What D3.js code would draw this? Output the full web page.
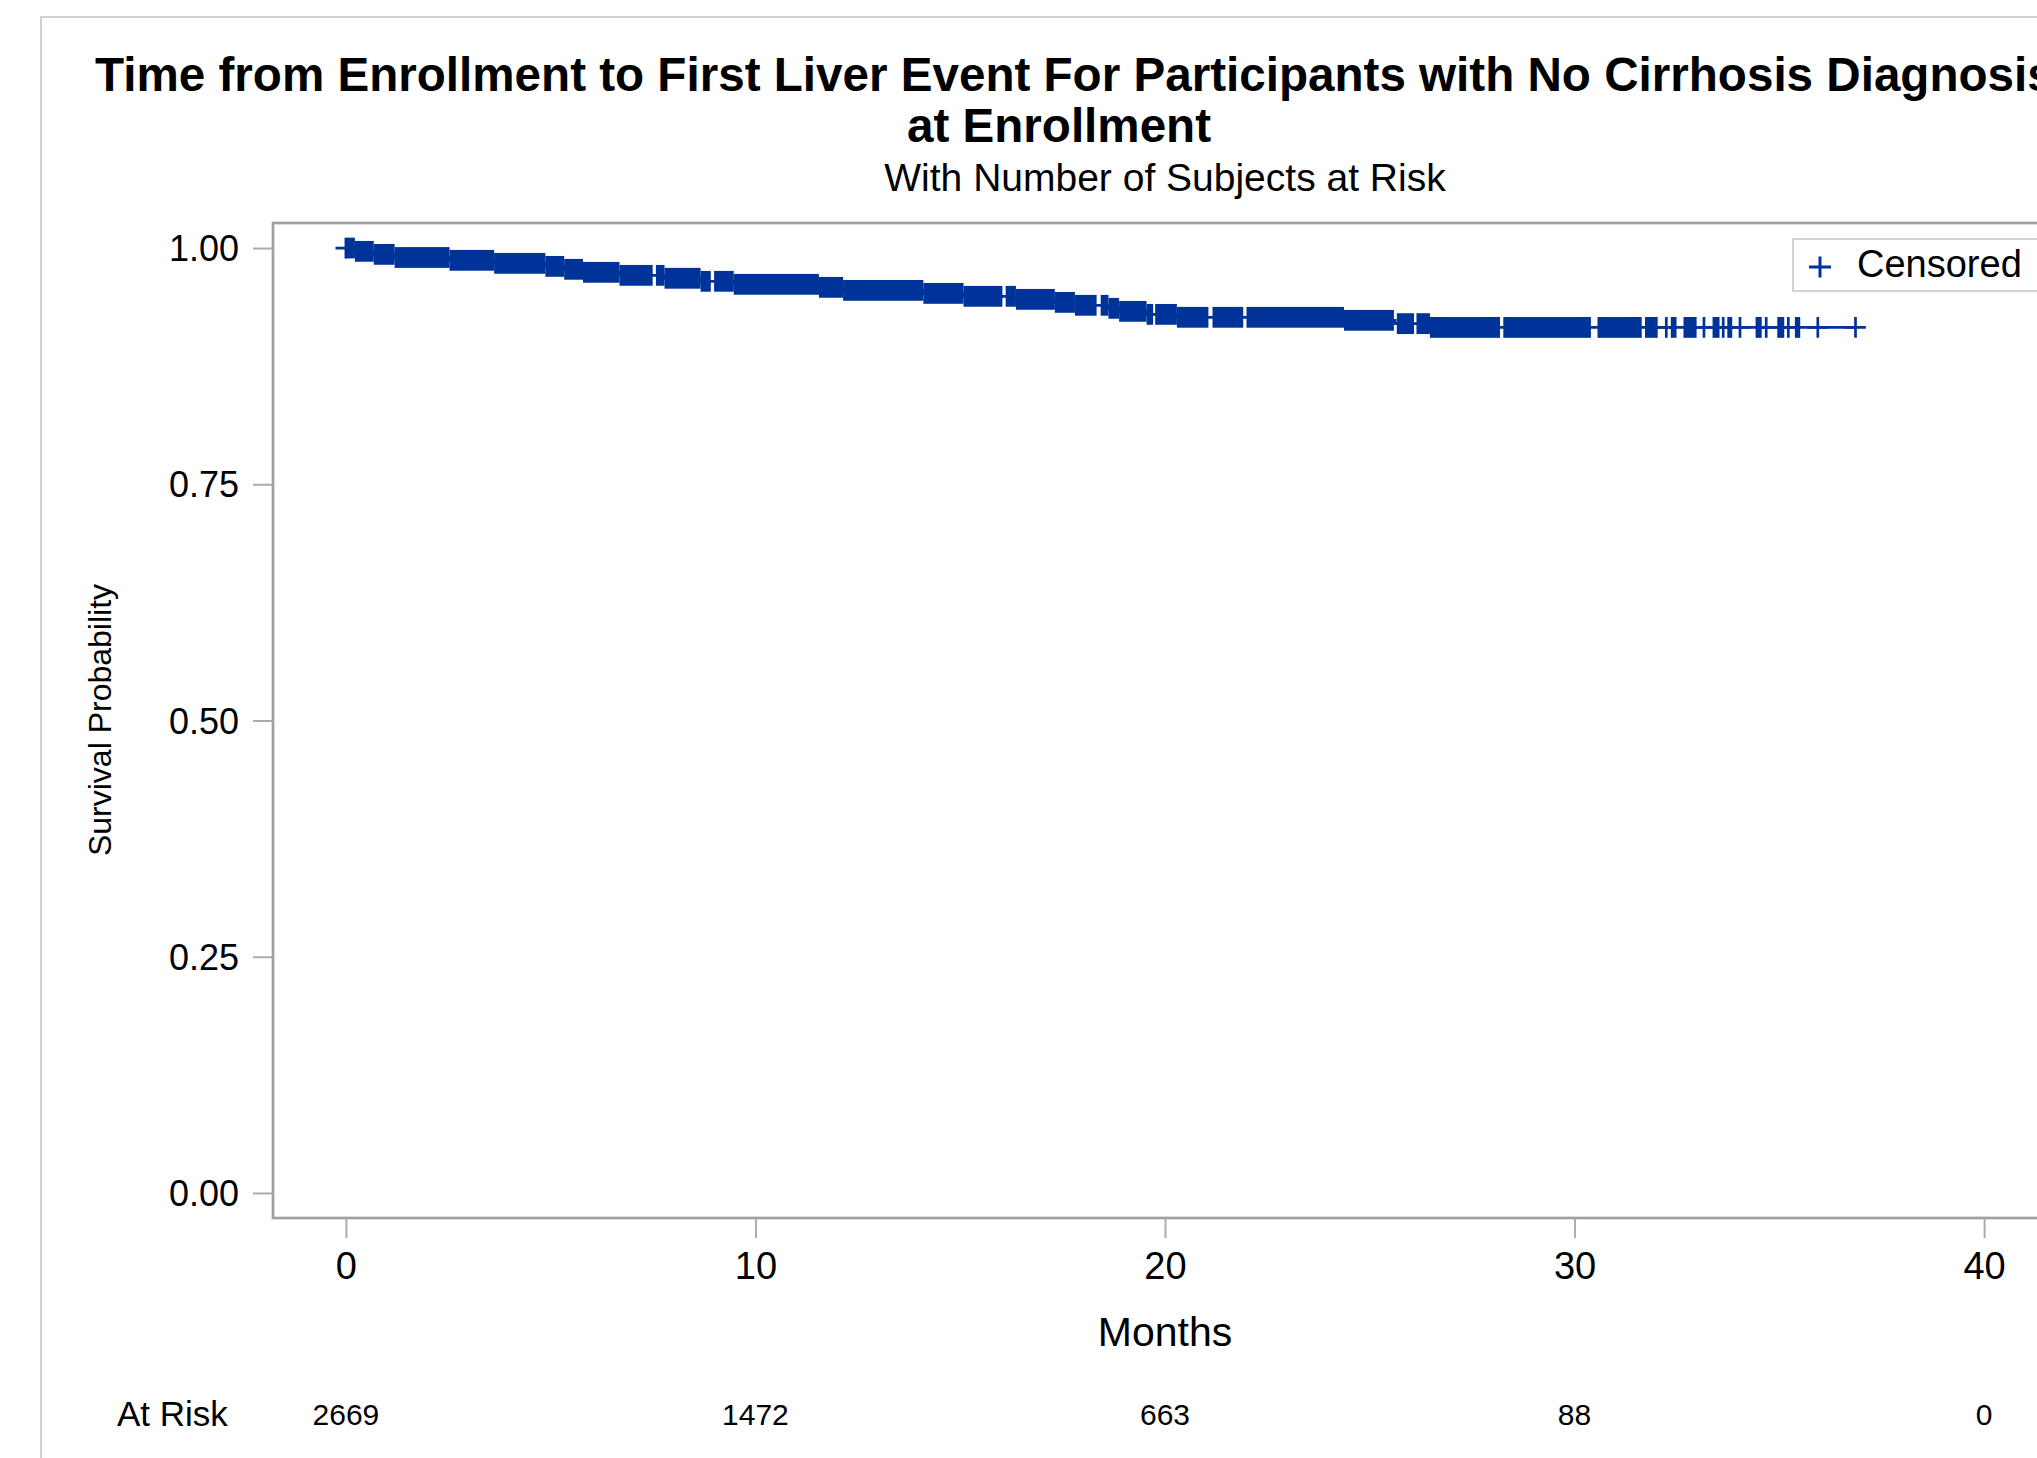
<!DOCTYPE html>
<html>
<head>
<meta charset="utf-8">
<script src="https://cdn.jsdelivr.net/npm/d3@7"></script>
<style>
  body { margin: 0; background: #fff; }
  svg { display: block; }
  text { font-family: "Liberation Sans", Arial, sans-serif; fill: #000; }
</style>
</head>
<body>
<div id="chart"></div>
<script>
// tick values and at-risk counts
const xTicks = [0, 10, 20, 30, 40]
const yTicks = [0, 0.25, 0.5, 0.75, 1]
const atRisk = [2669, 1472, 663, 88, 0]

// KM steps (months, survival)
const stepTimes = [0, 0.22, 0.68, 1.19, 2.53, 3.62, 4.87, 5.33, 5.79, 6.68, 7.78, 8.66, 9.47,
  11.55, 12.14, 14.10, 15.08, 16.36, 17.31, 17.80, 18.62, 18.88, 19.55, 20.29, 24.37, 25.62, 26.47]
const survival = [1, 0.9965, 0.9933, 0.990, 0.987, 0.9838, 0.9806, 0.9775, 0.9743, 0.9711, 0.968, 0.9648, 0.9616,
  0.9584, 0.9552, 0.952, 0.9489, 0.9457, 0.9425, 0.9394, 0.9362, 0.933, 0.9298, 0.9267, 0.9235, 0.920, 0.916]
const lastTime = 36.86

// runs where censoring marks are so dense they merge into a band
const denseStart = [0.0, 7.57, 8.99, 16.11, 18.43, 19.76, 21.16, 21.99, 25.66, 26.14, 28.26, 30.56, 31.72,
  32.35, 32.66, 33.37, 33.73, 34.42, 34.95, 35.38]
const denseEnd = [7.49, 8.91, 16.03, 18.33, 19.71, 21.06, 21.91, 25.59, 26.08, 28.18, 30.40, 31.64, 32.03,
  32.49, 32.98, 33.54, 33.85, 34.57, 35.12, 35.51]
// single censoring marks
const censorTimes = [0, 32.24, 33.16, 33.63, 34.04, 34.68, 35.22, 35.94, 36.86]

const svgWidth = 2037
const svgHeight = 1458
const plot = { left: 273, right: 2057, top: 223, bottom: 1218 }
const blue = "#003399"
const frameGray = "#9da1a6"

const svg = d3.select("#chart").append("svg")
    .attr("width", svgWidth)
    .attr("height", svgHeight)

svg.append("rect").attr("width", svgWidth).attr("height", svgHeight).attr("fill", "#fff")

// outer graph border (runs off the right/bottom of the picture)
svg.append("rect")
    .attr("x", 41).attr("y", 17)
    .attr("width", 2200).attr("height", 1600)
    .attr("fill", "none")
    .attr("stroke", "#d0d0d0")
    .attr("stroke-width", 2)

const x = d3.scaleLinear().domain([-1.78, 41.78]).range([plot.left, plot.right])
const y = d3.scaleLinear().domain([-0.0265, 1.0265]).range([plot.bottom, plot.top])

function surv(t) {
  return survival[Math.max(0, d3.bisectRight(stepTimes, t) - 1)]
}

// titles
svg.append("text")
    .attr("x", 95).attr("y", 91)
    .attr("font-size", 47.6).attr("font-weight", "bold")
    .text("Time from Enrollment to First Liver Event For Participants with No Cirrhosis Diagnosis")
svg.append("text")
    .attr("x", 1059).attr("y", 142)
    .attr("text-anchor", "middle")
    .attr("font-size", 47.6).attr("font-weight", "bold")
    .text("at Enrollment")
svg.append("text")
    .attr("x", (plot.left + plot.right) / 2).attr("y", 191)
    .attr("text-anchor", "middle")
    .attr("font-size", 39)
    .text("With Number of Subjects at Risk")

// plot frame
svg.append("rect")
    .attr("x", plot.left).attr("y", plot.top)
    .attr("width", plot.right - plot.left).attr("height", plot.bottom - plot.top)
    .attr("fill", "none")
    .attr("stroke", frameGray)
    .attr("stroke-width", 2.7)

// y axis
const yAxis = svg.append("g")
    .attr("transform", `translate(${plot.left},0)`)
    .call(d3.axisLeft(y).tickValues(yTicks).tickFormat(d3.format(".2f")).tickSize(20).tickPadding(14))
yAxis.select(".domain").remove()
yAxis.selectAll("line").attr("stroke", "#a8abaf").attr("stroke-width", 2)
yAxis.selectAll("text").attr("font-size", 36).attr("font-family", null).attr("dy", "0.35em")

// x axis
const xAxis = svg.append("g")
    .attr("transform", `translate(0,${plot.bottom})`)
    .call(d3.axisBottom(x).tickValues(xTicks).tickSize(20).tickPadding(12))
xAxis.select(".domain").remove()
xAxis.selectAll("line").attr("stroke", "#a8abaf").attr("stroke-width", 2)
xAxis.selectAll("text").attr("font-size", 38).attr("font-family", null).attr("dy", "0.75em")

svg.append("text")
    .attr("x", (plot.left + plot.right) / 2).attr("y", 1346)
    .attr("text-anchor", "middle")
    .attr("font-size", 41)
    .text("Months")

svg.append("text")
    .attr("transform", "translate(111,720) rotate(-90)")
    .attr("text-anchor", "middle")
    .attr("font-size", 32)
    .text("Survival Probability")

// KM step line
const pts = stepTimes.map((t, i) => [t, survival[i]])
pts.push([lastTime, survival[survival.length - 1]])
svg.append("path")
    .datum(pts)
    .attr("fill", "none")
    .attr("stroke", blue)
    .attr("stroke-width", 2.7)
    .attr("d", d3.line().curve(d3.curveStepAfter).x(d => x(d[0])).y(d => y(d[1])))

// dense censoring bands, stepping with the curve
const half = 10.4
const bands = []
denseStart.forEach((a, i) => {
  const b = denseEnd[i]
  stepTimes.forEach((s, j) => {
    const next = j + 1 < stepTimes.length ? stepTimes[j + 1] : lastTime
    const lo = Math.max(a, s), hi = Math.min(b, next)
    if (hi > lo) bands.push({ lo: lo, hi: hi, s: survival[j] })
  })
})
svg.selectAll(".band")
    .data(bands)
    .join("rect")
    .attr("class", "band")
    .attr("x", d => x(d.lo))
    .attr("width", d => Math.max(2.7, x(d.hi) - x(d.lo)))
    .attr("y", d => y(d.s) - half)
    .attr("height", half * 2)
    .attr("fill", blue)

// single censoring marks
svg.selectAll(".cens")
    .data(censorTimes)
    .join("path")
    .attr("class", "cens")
    .attr("transform", d => `translate(${x(d)},${y(surv(d))})`)
    .attr("d", `M${-half},0H${half}M0,${-half}V${half}`)
    .attr("stroke", blue)
    .attr("stroke-width", 2.7)
    .attr("fill", "none")

// legend
svg.append("rect")
    .attr("x", 1793).attr("y", 239)
    .attr("width", 400).attr("height", 52)
    .attr("fill", "#fff")
    .attr("stroke", "#d3d3d3")
    .attr("stroke-width", 2)
svg.append("path")
    .attr("transform", "translate(1820,267)")
    .attr("d", `M-11,0H11M0,-10.5V10.5`)
    .attr("stroke", blue)
    .attr("stroke-width", 3)
svg.append("text")
    .attr("x", 1857).attr("y", 277)
    .attr("font-size", 38)
    .text("Censored")

// at-risk row
svg.append("text")
    .attr("x", 117).attr("y", 1426)
    .attr("font-size", 35)
    .text("At Risk")
svg.selectAll(".risk")
    .data(atRisk)
    .join("text")
    .attr("class", "risk")
    .attr("x", (d, i) => x(xTicks[i]))
    .attr("y", 1425)
    .attr("text-anchor", "middle")
    .attr("font-size", 30)
    .text(d => d)
</script>
</body>
</html>
